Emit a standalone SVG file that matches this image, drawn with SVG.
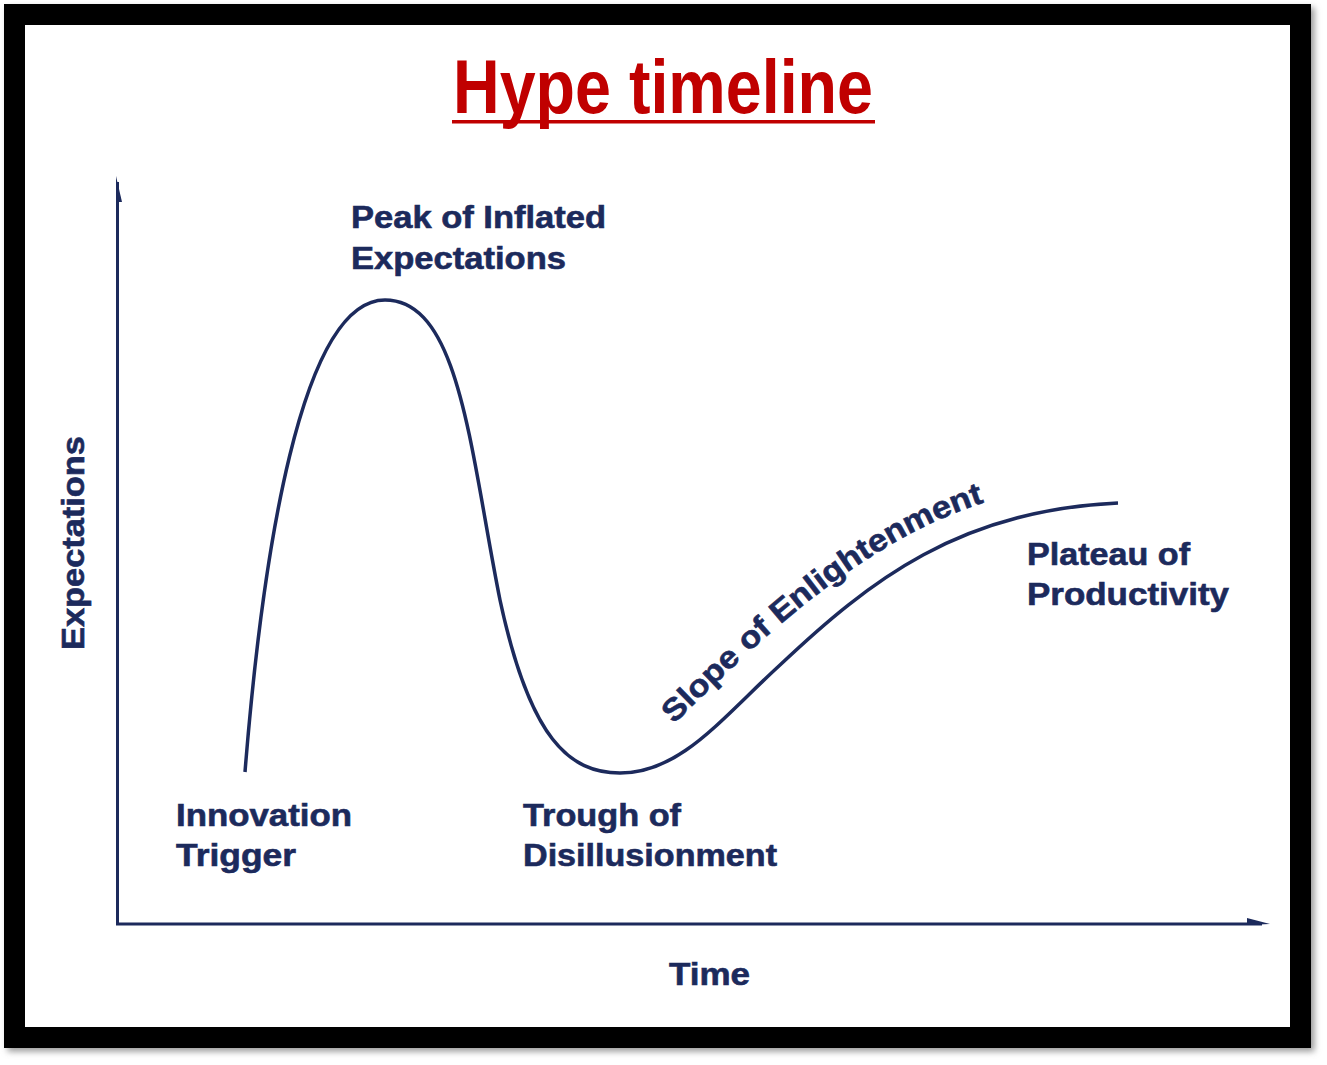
<svg xmlns="http://www.w3.org/2000/svg" width="1327" height="1065" viewBox="0 0 1327 1065">
<defs>
<style>
.lbl{font-family:"Liberation Sans",Arial,sans-serif;font-weight:bold;font-size:31px;fill:#1c2a5c;stroke:#1c2a5c;stroke-width:0.6}
.ax{stroke:#1c2a5c;stroke-width:3;fill:none}
.hd{fill:#1c2a5c}
</style>
<filter id="sh" x="-5%" y="-5%" width="110%" height="110%"><feGaussianBlur stdDeviation="3"/></filter>
</defs>
<rect width="1327" height="1065" fill="#ffffff"/>
<g id="frame">
<rect x="18" y="18" width="1286" height="1023" fill="none" stroke="#9a9a9a" stroke-width="21" filter="url(#sh)"/>
<rect x="14.5" y="14.5" width="1286" height="1023" fill="#ffffff" stroke="#000000" stroke-width="21"/>
</g>
<g id="title">
<text x="663" y="113" text-anchor="middle" font-family="'Liberation Sans Narrow','Liberation Sans',Arial,sans-serif" font-weight="bold" font-size="76" fill="#c00000" textLength="420" lengthAdjust="spacingAndGlyphs">Hype timeline</text>
<rect x="452" y="120" width="423" height="3.5" fill="#c00000"/>
</g>
<g id="connectors">
<line class="ax" x1="117.5" y1="182" x2="117.5" y2="925"/>
<polygon class="hd" points="116,176 122,202 116,202"/>
<line class="ax" x1="116" y1="924" x2="1262" y2="924"/>
<polygon class="hd" points="1270,924 1247,918 1247,925"/>
<path id="curve" d="M245,772 C 262,560 300,300 385,300 C 460,300 470,450 500,600 C 530,740 570,773 620,773 C 680,773 720,720 780,665 C 870,580 960,510 1118,503" fill="none" stroke="#1c2a5c" stroke-width="3.5"/>
<path id="slopePath" d="M674,724 C 760,640 865,535 1002,497" fill="none"/>
</g>
<g id="node-peak"><text class="lbl" x="351" y="228" textLength="255" lengthAdjust="spacingAndGlyphs">Peak of Inflated</text><text class="lbl" x="351" y="269" textLength="215" lengthAdjust="spacingAndGlyphs">Expectations</text></g>
<g id="node-trigger"><text class="lbl" x="176" y="826" textLength="176" lengthAdjust="spacingAndGlyphs">Innovation</text><text class="lbl" x="176" y="866" textLength="120" lengthAdjust="spacingAndGlyphs">Trigger</text></g>
<g id="node-trough"><text class="lbl" x="523" y="826" textLength="158" lengthAdjust="spacingAndGlyphs">Trough of</text><text class="lbl" x="523" y="866" textLength="254" lengthAdjust="spacingAndGlyphs">Disillusionment</text></g>
<g id="node-plateau"><text class="lbl" x="1027" y="565" textLength="163" lengthAdjust="spacingAndGlyphs">Plateau of</text><text class="lbl" x="1027" y="605" textLength="202" lengthAdjust="spacingAndGlyphs">Productivity</text></g>
<g id="node-slope"><text class="lbl" textLength="385" lengthAdjust="spacingAndGlyphs"><textPath href="#slopePath">Slope of Enlightenment</textPath></text></g>
<g id="axis-time"><text class="lbl" x="669" y="985" textLength="81" lengthAdjust="spacingAndGlyphs">Time</text></g>
<g id="axis-exp"><text class="lbl" x="0" y="0" transform="translate(84,650) rotate(-90)" textLength="214" lengthAdjust="spacingAndGlyphs">Expectations</text></g>
</svg>
